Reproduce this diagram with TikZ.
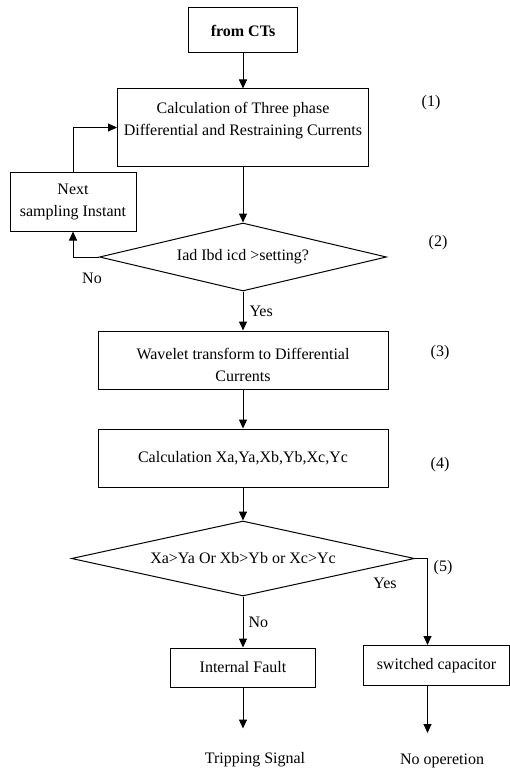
\documentclass[tikz,border=0pt]{standalone}
\usepackage{fontspec}
\setmainfont{Liberation Serif}
\usepackage{tikz}
\usetikzlibrary{shapes.geometric, arrows.meta, positioning, calc}

\begin{document}
\begin{tikzpicture}[
    x=1pt, y=1pt,
    font=\fontsize{16}{22}\selectfont,
    box/.style={rectangle, draw, line width=1pt, align=center, inner sep=0pt},
    decision/.style={diamond, draw, line width=1pt, align=center, inner sep=0pt},
    arrow/.style={-{Triangle[length=9pt, width=8pt]}, line width=1pt},
    label/.style={inner sep=0pt, align=center}
]
\useasboundingbox (0,0) rectangle (509,-773);

\node[box, minimum width=109pt, minimum height=45pt, font=\fontsize{16}{22}\selectfont\bfseries] (src) at (243,-30.5) {from CTs};
\node[box, minimum width=251pt, minimum height=77pt, text depth=18pt, below=35pt of src] (calc) {Calculation of Three phase\\Differential and Restraining Currents};
\node[box, minimum width=126pt, minimum height=59pt] (next) at (73,-201.5) {Next\\sampling Instant};
\node[decision, aspect=4.22, minimum width=287pt, minimum height=68pt, below=56pt of calc] (check) {Iad Ibd icd >setting?};
\node[box, minimum width=290pt, minimum height=58pt, text height=44pt, below=39pt of check] (wavelet) {Wavelet transform to Differential\\Currents};
\node[box, minimum width=290pt, minimum height=58pt, below=39pt of wavelet] (xycalc) {Calculation Xa,Ya,Xb,Yb,Xc,Yc};
\node[decision, aspect=4.57, minimum width=343pt, minimum height=75pt, below=33pt of xycalc] (compare) {Xa>Ya Or Xb>Yb or Xc>Yc};
\node[box, minimum width=145pt, minimum height=39pt, below=51pt of compare] (fault) {Internal Fault};
\node[box, minimum width=146pt, minimum height=40pt, right=47pt of fault, yshift=2pt] (cap) {switched capacitor};

% step numbers
\foreach \n/\px/\py in {1/431/103, 2/438/243, 3/440/353, 4/440/465, 5/443/568}
    \node[label] (num\n) at (\px,-\py) {(\n)};

% outputs
\coordinate (tripend) at ($(fault.south)+(0,-41)$);
\coordinate (capout) at ($(cap.south)+(-9,0)$);
\coordinate (capend) at ($(capout)+(0,-47)$);
\node[label] (trip) at (255,-760) {Tripping Signal};
\node[label] (noop) at (442,-761) {No operetion};

\draw[arrow] (src) -- (calc);
\draw[arrow] (calc) -- (check);
\draw[arrow] (check) -- node[right, label, xshift=6pt] {Yes} (wavelet);
\draw[arrow] (check.west) -| (next.south);
\node[label] (nolbl) at ($(check.west)+(-7,-21)$) {No};
\draw[arrow] (next.north) |- (calc.west);
\draw[arrow] (wavelet) -- (xycalc);
\draw[arrow] (xycalc) -- (compare);
\draw[arrow] (compare) -- node[right, label, xshift=5pt] {No} (fault);
\draw[arrow] (compare.east) -| ([xshift=-9pt]cap.north);
\node[label] (yeslbl) at ($(compare.east)+(-30,-25)$) {Yes};
\draw[arrow] (fault.south) -- (tripend);
\draw[arrow] (capout) -- (capend);

\end{tikzpicture}
\end{document}
